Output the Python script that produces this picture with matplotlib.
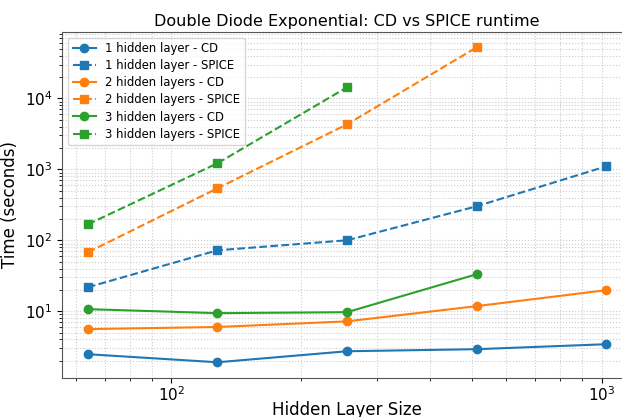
import numpy as np
import matplotlib
matplotlib.use("Agg")
import matplotlib.pyplot as plt

sizes = [64, 128, 256, 512, 1024]

cd_1 = [2.48, 1.91, 2.73, 2.92, 3.43]
spice_1 = [21.8, 72.3, 100, 301, 1100]
cd_2 = [5.6, 6.0, 7.2, 11.8, 19.8]
spice_2 = [67.8, 540, 4300, 52200]
cd_3 = [10.7, 9.4, 9.7, 33.2]
spice_3 = [168, 1216, 14300]

fig, ax = plt.subplots(figsize=(6.22, 4.17), dpi=100)

ax.plot(sizes, cd_1, 'o-', color='C0', label='1 hidden layer - CD')
ax.plot(sizes, spice_1, 's--', color='C0', label='1 hidden layer - SPICE')
ax.plot(sizes[:len(cd_2)], cd_2, 'o-', color='C1', label='2 hidden layers - CD')
ax.plot(sizes[:len(spice_2)], spice_2, 's--', color='C1', label='2 hidden layers - SPICE')
ax.plot(sizes[:len(cd_3)], cd_3, 'o-', color='C2', label='3 hidden layers - CD')
ax.plot(sizes[:len(spice_3)], spice_3, 's--', color='C2', label='3 hidden layers - SPICE')

ax.set_xscale('log')
ax.set_yscale('log')
ax.grid(True, which='both', linestyle=':', color='#cccccc', linewidth=0.8)
for s in ax.spines.values():
    s.set_color('#555555')
ax.set_title('Double Diode Exponential: CD vs SPICE runtime', fontsize=11.5, pad=4)
ax.set_xlabel('Hidden Layer Size', fontsize=12, labelpad=-2)
ax.set_ylabel('Time (seconds)', fontsize=12)
ax.tick_params(labelsize=11)
ax.tick_params(axis='x', pad=1.5)
ax.legend(fontsize=8.4, loc='upper left', labelspacing=0.35)

# axes runs past the right edge of the figure, as in the original
fig.subplots_adjust(left=0.0997, right=1.016, top=0.924, bottom=0.0935)
fig.savefig('out.png')
